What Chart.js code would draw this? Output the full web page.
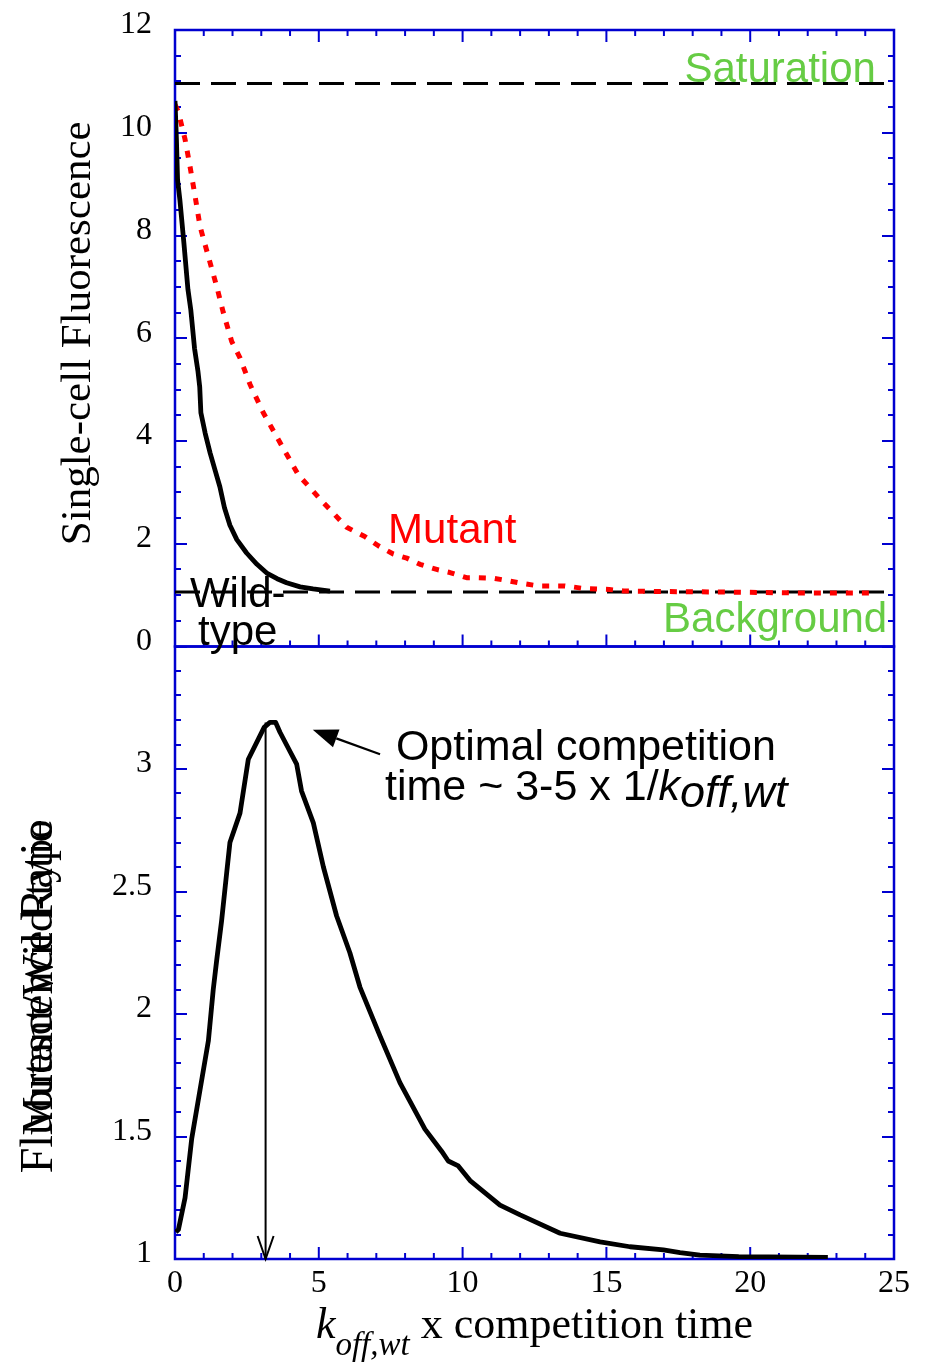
<!DOCTYPE html>
<html>
<head>
<meta charset="utf-8">
<script src="https://cdn.jsdelivr.net/npm/chart.js@4/dist/chart.umd.min.js"></script>
<style>
html,body{margin:0;padding:0;background:#fff;}
#wrap{position:relative;width:926px;height:1362px;}
canvas{display:block;}
</style>
</head>
<body>
<div id="wrap"><canvas id="c" width="926" height="1362"></canvas></div>
<script>
// ---------- data ----------
const xTickValues = [0, 5, 10, 15, 20, 25];
const xMinorStep = 1;
const topTickValues = [0, 2, 4, 6, 8, 10, 12];
const topMinorStep = 0.5;
const bottomTickValues = [1, 1.5, 2, 2.5, 3];
const bottomMinorStep = 0.1;

const saturationLevel = 10.96;
const backgroundLevel = 1.06;

const wildTypeTime  = [0, 0.05, 0.09, 0.17, 0.31, 0.45, 0.55, 0.68, 0.80, 0.86, 0.90, 1.05, 1.22, 1.40, 1.56, 1.72, 1.91, 2.15, 2.49, 2.85, 3.19, 3.55, 3.88, 4.35, 4.80, 5.39];
const wildTypeFluor = [10.62, 9.86, 9.08, 8.69, 7.85, 6.95, 6.55, 5.80, 5.35, 5.05, 4.55, 4.15, 3.77, 3.42, 3.11, 2.70, 2.36, 2.08, 1.82, 1.60, 1.43, 1.32, 1.24, 1.16, 1.12, 1.08];

const mutantTime  = [0, 0.12, 0.35, 0.52, 0.70, 0.87, 1.16, 1.45, 1.68, 1.97, 2.26, 2.61, 3.07, 3.65, 4.29, 5.16, 5.97, 6.60, 7.07, 7.59, 8.06, 8.52, 9.16, 9.56, 10.14, 10.55, 11.07, 11.59, 12.05, 12.63, 13.10, 13.56, 14.20, 15.10, 15.60, 17.0, 19.0, 22.1, 24.2];
const mutantFluor = [10.55, 10.40, 9.87, 9.35, 8.76, 8.18, 7.59, 7.01, 6.50, 5.94, 5.62, 5.10, 4.55, 3.97, 3.34, 2.80, 2.32, 2.14, 1.96, 1.80, 1.72, 1.60, 1.49, 1.44, 1.34, 1.34, 1.33, 1.28, 1.23, 1.18, 1.18, 1.18, 1.13, 1.11, 1.08, 1.07, 1.06, 1.04, 1.04];

const ratioTime  = [0.03, 0.12, 0.35, 0.58, 0.87, 1.16, 1.33, 1.45, 1.62, 1.80, 1.91, 2.26, 2.55, 3.10, 3.30, 3.50, 3.65, 4.23, 4.40, 4.81, 5.16, 5.62, 6.08, 6.43, 7.13, 7.82, 8.69, 9.27, 9.50, 9.85, 10.26, 11.30, 12.00, 13.39, 14.78, 15.82, 16.98, 17.56, 18.25, 19.60, 22.70];
const ratioValue = [1.11, 1.12, 1.25, 1.49, 1.69, 1.89, 2.10, 2.22, 2.38, 2.58, 2.70, 2.82, 3.04, 3.17, 3.19, 3.19, 3.15, 3.02, 2.91, 2.78, 2.60, 2.40, 2.25, 2.11, 1.91, 1.72, 1.53, 1.44, 1.40, 1.38, 1.32, 1.22, 1.18, 1.105, 1.07, 1.05, 1.037, 1.026, 1.016, 1.010, 1.007];

// annotation anchors (data units)
const optimalTime = 3.15;
const optimalRatio = 3.19;
const pointerTip = [4.79, 3.16];
const pointerTail = [7.13, 3.06];

// ---------- styles ----------
const AXIS_BLUE = '#0000d0';
const GREEN = '#66cc44';
const SERIF = '"Liberation Serif", "Times New Roman", serif';
const SANS = '"Liberation Sans", Arial, sans-serif';

const pts = (xs, ys) => xs.map((x, i) => ({x, y: ys[i]}));

const frame = {
  id: 'frame',
  beforeDatasetsDraw(chart) {
    const ctx = chart.ctx, xs = chart.scales.x, yT = chart.scales.yTop, yB = chart.scales.yBot;
    const L = xs.left, R = xs.right;
    ctx.save();
    ctx.strokeStyle = AXIS_BLUE;
    ctx.lineCap = 'butt';
    const seg = (x1, y1, x2, y2) => { ctx.beginPath(); ctx.moveTo(x1, y1); ctx.lineTo(x2, y2); ctx.stroke(); };
    const isMajor = (v, list) => list.some(m => Math.abs(m - v) < 1e-6);
    ctx.lineWidth = 2;
    [[yT, topMinorStep, topTickValues], [yB, bottomMinorStep, bottomTickValues]].forEach(([ys, step, majors]) => {
      const n = Math.round((ys.max - ys.min) / step);
      for (let i = 0; i <= n; i++) {
        const v = ys.min + i * step;
        const p = Math.round(ys.getPixelForValue(v));
        const len = isMajor(v, majors) ? 12 : 6;
        seg(L, p, L + len, p);
        seg(R, p, R - len, p);
      }
    });
    const nx = Math.round((xs.max - xs.min) / xMinorStep);
    for (let i = 0; i <= nx; i++) {
      const v = xs.min + i * xMinorStep;
      const p = xs.getPixelForValue(v);
      const len = isMajor(v, xTickValues) ? 12 : 6;
      seg(p, yT.top, p, yT.top + len);
      seg(p, yT.bottom, p, yT.bottom - len);
      seg(p, yB.bottom, p, yB.bottom - len);
    }
    ctx.lineWidth = 2.5;
    ctx.strokeRect(L, yT.top, R - L, yT.bottom - yT.top);
    ctx.strokeRect(L, yB.top, R - L, yB.bottom - yB.top);
    ctx.restore();
  }
};

function drawRuns(ctx, runs, x, y, align) {
  let total = 0;
  runs.forEach(r => { ctx.font = r.font; r.w = ctx.measureText(r.text).width; total += r.w; });
  let cx = align === 'center' ? x - total / 2 : (align === 'right' ? x - total : x);
  ctx.textAlign = 'left';
  runs.forEach(r => { ctx.font = r.font; ctx.fillText(r.text, cx, y + (r.dy || 0)); cx += r.w; });
}

const annotations = {
  id: 'annotations',
  afterDatasetsDraw(chart) {
    const ctx = chart.ctx, xs = chart.scales.x, yT = chart.scales.yTop, yB = chart.scales.yBot;
    ctx.save();
    ctx.textBaseline = 'alphabetic';

    // vertical arrow at optimal time
    const ax = xs.getPixelForValue(optimalTime);
    const aTop = yB.getPixelForValue(optimalRatio);
    const aBot = yB.getPixelForValue(1);
    ctx.strokeStyle = '#000';
    ctx.lineWidth = 2;
    ctx.beginPath(); ctx.moveTo(ax, aTop); ctx.lineTo(ax, aBot); ctx.stroke();
    ctx.beginPath();
    ctx.moveTo(ax - 8, aBot - 23); ctx.lineTo(ax, aBot); ctx.lineTo(ax + 8, aBot - 23);
    ctx.stroke();

    // pointer arrow
    const tx = xs.getPixelForValue(pointerTip[0]), ty = yB.getPixelForValue(pointerTip[1]);
    const sx = xs.getPixelForValue(pointerTail[0]), sy = yB.getPixelForValue(pointerTail[1]);
    const dx = tx - sx, dy = ty - sy, d = Math.hypot(dx, dy), ux = dx / d, uy = dy / d;
    const bx = tx - ux * 25, by = ty - uy * 25;
    ctx.lineWidth = 2.2;
    ctx.beginPath(); ctx.moveTo(sx, sy); ctx.lineTo(bx, by); ctx.stroke();
    ctx.fillStyle = '#000';
    ctx.beginPath();
    ctx.moveTo(tx, ty);
    ctx.lineTo(bx - uy * 9.5, by + ux * 9.5);
    ctx.lineTo(bx + uy * 9.5, by - ux * 9.5);
    ctx.closePath(); ctx.fill();

    // texts in the top panel
    ctx.font = '42px ' + SANS;
    ctx.fillStyle = GREEN;
    ctx.textAlign = 'right';
    ctx.fillText('Saturation', xs.getPixelForValue(24.37), yT.getPixelForValue(10.99));
    ctx.textAlign = 'left';
    ctx.fillText('Background', xs.getPixelForValue(16.97), yT.getPixelForValue(0.28));
    ctx.fillStyle = '#ff0000';
    ctx.fillText('Mutant', xs.getPixelForValue(7.41), yT.getPixelForValue(2.01));
    ctx.fillStyle = '#000';
    ctx.fillText('Wild-', xs.getPixelForValue(0.52), yT.getPixelForValue(0.77));
    ctx.fillText('type', xs.getPixelForValue(0.80), yT.getPixelForValue(0.03));

    // bottom annotation
    ctx.font = '43px ' + SANS;
    ctx.fillText('Optimal competition', xs.getPixelForValue(7.68), yB.getPixelForValue(3.037));
    drawRuns(ctx, [
      {text: 'time ~ 3-5 x 1/', font: '43px ' + SANS},
      {text: 'k', font: 'italic 43px ' + SANS},
      {text: 'off,wt', font: 'italic 45px ' + SANS, dy: 7}
    ], xs.getPixelForValue(7.30), yB.getPixelForValue(2.873), 'left');

    // x title
    drawRuns(ctx, [
      {text: 'k', font: 'italic 44px ' + SERIF},
      {text: 'off,wt', font: 'italic 33px ' + SERIF, dy: 17},
      {text: ' x competition time', font: '44px ' + SERIF}
    ], (xs.left + xs.right) / 2, yB.bottom + 79, 'center');

    // y titles
    ctx.save();
    ctx.translate(90, (yT.top + yT.bottom) / 2 - 5);
    ctx.rotate(-Math.PI / 2);
    ctx.font = '43px ' + SERIF;
    ctx.textAlign = 'center';
    ctx.fillText('Single-cell Fluorescence', 0, 0);
    ctx.restore();

    ctx.save();
    ctx.translate(52, yB.top + 173);
    ctx.rotate(-Math.PI / 2);
    ctx.textAlign = 'right';
    ctx.font = '46px ' + SERIF;
    ctx.fillText('Fluorescence Ratio', 0, 0);
    ctx.font = '44px ' + SERIF;
    ctx.fillText('Mutant/Wild-type', 0, 0);
    ctx.restore();

    ctx.restore();
  }
};

const tickFont = {family: SERIF, size: 32};
const fmt = v => String(v);

new Chart(document.getElementById('c'), {
  type: 'line',
  data: {
    datasets: [
      {label: 'Wild-type', data: pts(wildTypeTime, wildTypeFluor), yAxisID: 'yTop', borderColor: '#000', borderWidth: 4.8, pointRadius: 0, order: 1},
      {label: 'Mutant', data: pts(mutantTime, mutantFluor), yAxisID: 'yTop', borderColor: '#ff0000', borderWidth: 5, borderDash: [7, 9], borderCapStyle: 'butt', pointRadius: 0, order: 2},
      {label: 'Saturation', data: pts([0, 25], [saturationLevel, saturationLevel]), yAxisID: 'yTop', borderColor: '#000', borderWidth: 3, borderDash: [25, 11], pointRadius: 0, order: 4},
      {label: 'Background', data: pts([0, 25], [backgroundLevel, backgroundLevel]), yAxisID: 'yTop', borderColor: '#000', borderWidth: 3, borderDash: [25, 11], pointRadius: 0, order: 3},
      {label: 'Ratio', data: pts(ratioTime, ratioValue), yAxisID: 'yBot', borderColor: '#000', borderWidth: 4.8, pointRadius: 0, order: 1}
    ]
  },
  options: {
    responsive: false,
    animation: false,
    devicePixelRatio: 1,
    layout: {padding: {top: 30, right: 32, bottom: 0, left: 0}},
    elements: {line: {tension: 0, fill: false, borderJoinStyle: 'round'}},
    plugins: {legend: {display: false}, tooltip: {enabled: false}},
    scales: {
      x: {
        type: 'linear', position: 'bottom', min: 0, max: 25,
        grid: {display: false, drawTicks: true, tickLength: 5}, border: {display: false},
        afterBuildTicks: s => { s.ticks = xTickValues.map(v => ({value: v})); },
        afterFit: s => { s.height = 103; },
        ticks: {font: tickFont, color: '#000', padding: 0, maxRotation: 0, autoSkip: false, callback: fmt}
      },
      yBot: {
        type: 'linear', position: 'left', stack: 'panels', stackWeight: 612.5, min: 1, max: 3.5,
        grid: {display: false, drawTicks: true, tickLength: 23}, border: {display: false},
        afterBuildTicks: s => { s.ticks = bottomTickValues.map(v => ({value: v})); },
        afterFit: s => { s.width = 175; },
        ticks: {font: tickFont, color: '#000', padding: 0, labelOffset: -5, callback: fmt}
      },
      yTop: {
        type: 'linear', position: 'left', stack: 'panels', stackWeight: 616.5, min: 0, max: 12,
        grid: {display: false, drawTicks: true, tickLength: 23}, border: {display: false},
        afterBuildTicks: s => { s.ticks = topTickValues.map(v => ({value: v})); },
        afterFit: s => { s.width = 175; },
        ticks: {font: tickFont, color: '#000', padding: 0, labelOffset: -5, callback: fmt}
      }
    }
  },
  plugins: [frame, annotations]
});
</script>
</body>
</html>
